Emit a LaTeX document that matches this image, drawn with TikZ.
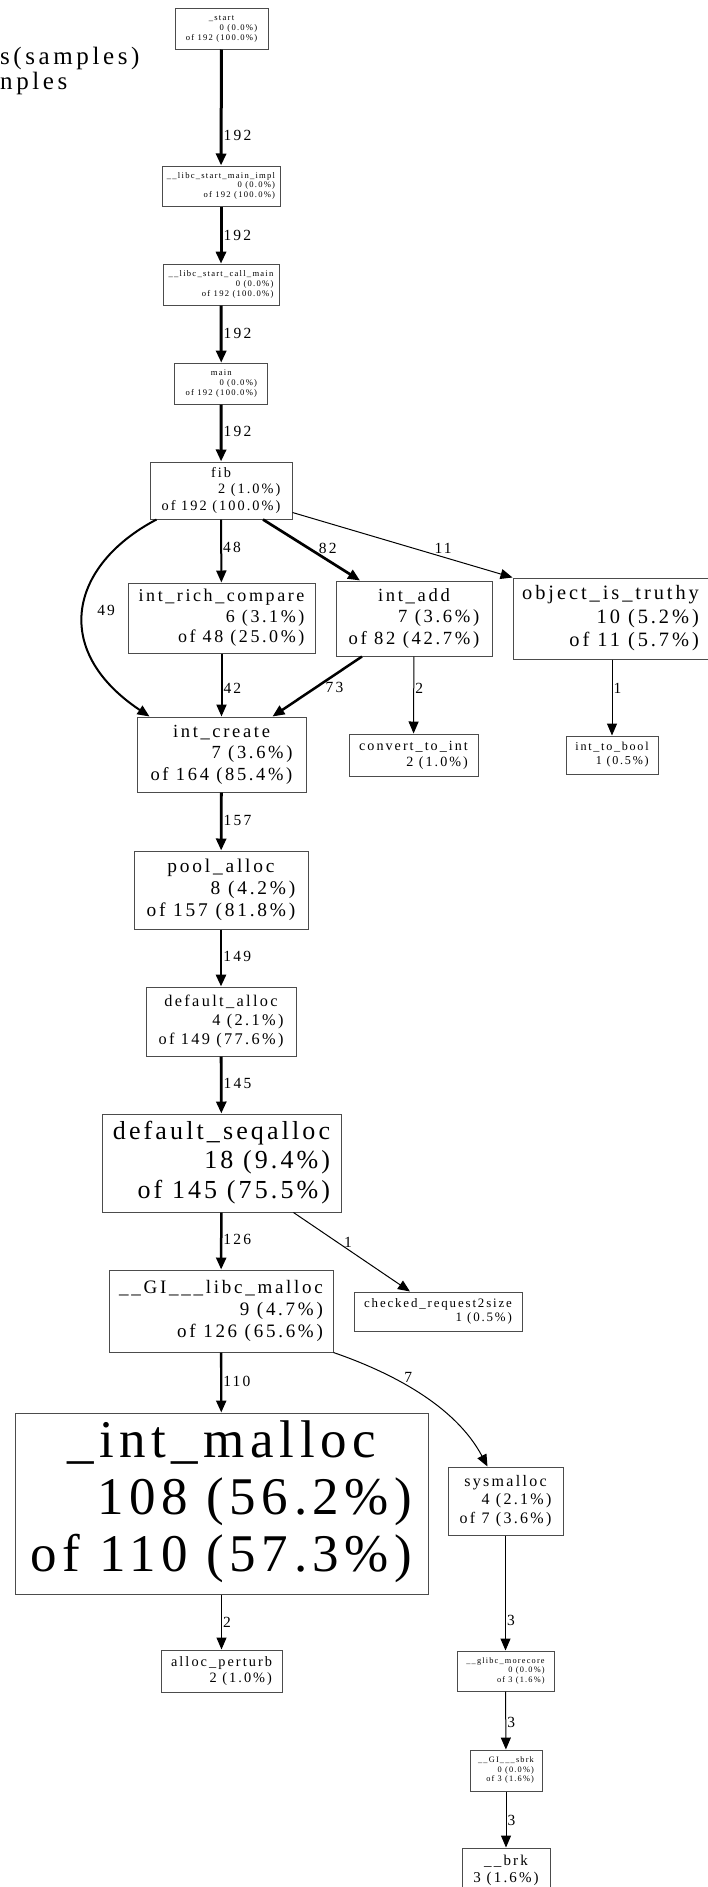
\documentclass[tikz,border=0pt]{standalone}
\usepackage{fontspec}
\setmainfont[LetterSpace=14.4]{Liberation Serif}
\usetikzlibrary{arrows.meta}
\newcommand{\gvfont}[2][14.4]{\fontsize{#2}{\fpeval{1.15*#2}}\selectfont\addfontfeatures{LetterSpace=#1}}
\newcommand{\fnlab}[2]{\begin{tabular}{@{}r@{}}\multicolumn{1}{@{}c@{}}{#1}\\#2\end{tabular}}
\tikzset{
  fnbox/.style={draw=black!70, line width=1pt, fill=white, inner sep=0pt},
  calledge/.style={draw=black, line width=#1, -{Triangle[length=12pt,width=10pt]}},
  calledge/.default=1pt,
  wlab/.style={font=\gvfont{15.5}, inner sep=0pt, anchor=west, xshift=1pt}
}
\begin{document}
\begin{tikzpicture}[x=1pt,y=-1pt]
  \path[use as bounding box, fill=white] (0,0) rectangle (708,1887);
  \node[font=\gvfont{25}, inner sep=0pt, anchor=base west] (legtype) at (0,64) {s(samples)};
  \node[font=\gvfont{25}, inner sep=0pt, anchor=base west] (legtotal) at (0,89) {nples};

  \node[fnbox, minimum width=93pt, minimum height=41pt, font=\gvfont{8.6}] (start) at (221.5,28.5) {\fnlab{\_start}{0 (0.0\%)\\of 192 (100.0\%)}};
  \node[fnbox, minimum width=118pt, minimum height=40pt, font=\gvfont{8.6}] (implmain) at (221,186) {\fnlab{\_\_libc\_start\_main\_impl}{0 (0.0\%)\\of 192 (100.0\%)}};
  \node[fnbox, minimum width=116pt, minimum height=41pt, font=\gvfont{8.6}] (callmain) at (221,284.7) {\fnlab{\_\_libc\_start\_call\_main}{0 (0.0\%)\\of 192 (100.0\%)}};
  \node[fnbox, minimum width=93pt, minimum height=41pt, font=\gvfont{8.6}] (main) at (221.3,383.7) {\fnlab{main}{0 (0.0\%)\\of 192 (100.0\%)}};
  \node[fnbox, minimum width=142pt, minimum height=57pt, font=\gvfont{14.3}] (fib) at (221,490.5) {\fnlab{fib}{2 (1.0\%)\\of 192 (100.0\%)}};
  \node[fnbox, minimum width=187pt, minimum height=70pt, font=\gvfont{18}] (richcmp) at (221.5,618) {\fnlab{int\_rich\_compare}{6 (3.1\%)\\of 48 (25.0\%)}};
  \node[fnbox, minimum width=156pt, minimum height=75pt, font=\gvfont{18.6}] (intadd) at (414,618.5) {\fnlab{int\_add}{7 (3.6\%)\\of 82 (42.7\%)}};
  \node[fnbox, minimum width=195pt, minimum height=81pt, font=\gvfont{20.4}] (truthy) at (610.5,618.5) {\fnlab{object\_is\_truthy}{10 (5.2\%)\\of 11 (5.7\%)}};
  \node[fnbox, minimum width=169pt, minimum height=75pt, font=\gvfont{18.5}] (intcreate) at (221.5,754.5) {\fnlab{int\_create}{7 (3.6\%)\\of 164 (85.4\%)}};
  \node[fnbox, minimum width=129pt, minimum height=42pt, font=\gvfont{14.1}] (convint) at (413.5,755) {\fnlab{convert\_to\_int}{2 (1.0\%)}};
  \node[fnbox, minimum width=92pt, minimum height=38pt, font=\gvfont{12.1}] (tobool) at (612,755) {\fnlab{int\_to\_bool}{1 (0.5\%)}};
  \node[fnbox, minimum width=174pt, minimum height=78pt, font=\gvfont{19.4}] (poolalloc) at (221,890) {\fnlab{pool\_alloc}{8 (4.2\%)\\of 157 (81.8\%)}};
  \node[fnbox, minimum width=150pt, minimum height=69pt, font=\gvfont{16.3}] (defalloc) at (221,1021.5) {\fnlab{default\_alloc}{4 (2.1\%)\\of 149 (77.6\%)}};
  \node[fnbox, minimum width=239pt, minimum height=98pt, font={\gvfont[12]{26}}] (seqalloc) at (221.5,1163) {\fnlab{default\_seqalloc}{18 (9.4\%)\\of 145 (75.5\%)}};
  \node[fnbox, minimum width=224pt, minimum height=82pt, font=\gvfont{19}] (libcmalloc) at (221,1311) {\fnlab{\_\_GI\_\_\_libc\_malloc}{9 (4.7\%)\\of 126 (65.6\%)}};
  \node[fnbox, minimum width=168pt, minimum height=39pt, font=\gvfont{12.9}] (checked) at (438,1311.5) {\fnlab{checked\_request2size}{1 (0.5\%)}};
  \node[fnbox, minimum width=413pt, minimum height=181pt, font={\fontsize{53}{57}\selectfont\addfontfeatures{LetterSpace=10.5}}] (intmalloc) at (221.5,1503.5) {\fnlab{\_int\_malloc}{108 (56.2\%)\\of 110 (57.3\%)}};
  \node[fnbox, minimum width=115pt, minimum height=68pt, font=\gvfont{16}] (sysmalloc) at (505.5,1501) {\fnlab{sysmalloc}{4 (2.1\%)\\of 7 (3.6\%)}};
  \node[fnbox, minimum width=121pt, minimum height=42pt, font=\gvfont{14.3}] (perturb) at (221.5,1671) {\fnlab{alloc\_perturb}{2 (1.0\%)}};
  \node[fnbox, minimum width=97pt, minimum height=40pt, font=\gvfont{8.3}] (morecore) at (505.5,1671) {\fnlab{\_\_glibc\_morecore}{0 (0.0\%)\\of 3 (1.6\%)}};
  \node[fnbox, minimum width=72pt, minimum height=41pt, font=\gvfont{8.3}] (sbrk) at (506,1770.5) {\fnlab{\_\_GI\_\_\_sbrk}{0 (0.0\%)\\of 3 (1.6\%)}};
  \node[fnbox, minimum width=88pt, minimum height=45pt, font=\gvfont{15}] (brk) at (506,1870.5) {\fnlab{\_\_brk}{3 (1.6\%)}};

  \draw[calledge=3pt] (start) -- (implmain) node[wlab, pos=0.745] {192};
  \draw[calledge=3pt] (implmain) -- (callmain) node[wlab, pos=0.5] {192};
  \draw[calledge=3pt] (callmain) -- (main) node[wlab, pos=0.48] {192};
  \draw[calledge=3pt] (main) -- (fib) node[wlab, pos=0.47] {192};
  \draw[calledge=2pt] (fib) -- (richcmp) node[wlab, pos=0.45] {48};
  \draw[calledge=2.7pt] ([xshift=42pt]fib.south) -- ([xshift=-54pt]intadd.north) node[wlab, pos=0.47, xshift=8pt] {82};
  \draw[calledge] ([yshift=-22pt]fib.east) -- (truthy.north west) node[wlab, pos=0.68, above=3pt] {11};
  \draw[calledge=2pt] ([xshift=7pt]fib.south west) .. controls (70,565) and (50,650) .. ([xshift=13pt]intcreate.north west) node[wlab, pos=0.5, xshift=12pt] {49};
  \draw[calledge=2pt] (richcmp) -- (intcreate) node[wlab, pos=0.55] {42};
  \draw[calledge=2.5pt] ([xshift=-52pt]intadd.south) -- ([xshift=51pt]intcreate.north) node[wlab, pos=0.52, xshift=8pt] {73};
  \draw[calledge] (intadd) -- (convint) node[wlab, pos=0.41] {2};
  \draw[calledge] (truthy.south -| tobool.north) -- (tobool) node[wlab, pos=0.38] {1};
  \draw[calledge=2.8pt] (intcreate) -- (poolalloc) node[wlab, pos=0.49] {157};
  \draw[calledge=2.8pt] (poolalloc) -- (defalloc) node[wlab, pos=0.48] {149};
  \draw[calledge=2.8pt] (defalloc) -- (seqalloc) node[wlab, pos=0.48] {145};
  \draw[calledge=2.5pt] (seqalloc) -- (libcmalloc) node[wlab, pos=0.47] {126};
  \draw[calledge] ([xshift=72pt]seqalloc.south) -- ([xshift=-28pt]checked.north) node[wlab, pos=0.46, above=1pt] {1};
  \draw[calledge=2.3pt] (libcmalloc) -- (intmalloc) node[wlab, pos=0.49] {110};
  \draw[calledge] (libcmalloc.south east) .. controls (390,1372) and (455,1405) .. ([xshift=-18pt]sysmalloc.north) node[wlab, pos=0.4, anchor=south west] {7};
  \draw[calledge] (intmalloc) -- (perturb) node[wlab, pos=0.5] {2};
  \draw[calledge] (sysmalloc) -- (morecore) node[wlab, pos=0.74] {3};
  \draw[calledge] (morecore) -- (sbrk) node[wlab, pos=0.53] {3};
  \draw[calledge] (sbrk) -- (brk) node[wlab, pos=0.51] {3};
\end{tikzpicture}
\end{document}
